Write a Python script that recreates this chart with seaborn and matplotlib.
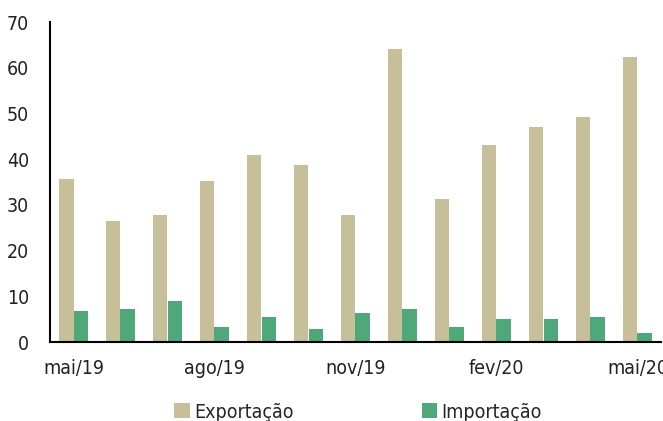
import matplotlib
matplotlib.use("Agg")
import matplotlib.pyplot as plt
import seaborn as sns
import pandas as pd
from matplotlib.patches import Patch
from matplotlib import font_manager as fm

meses = ["mai/19", "jun/19", "jul/19", "ago/19", "set/19", "out/19", "nov/19",
         "dez/19", "jan/20", "fev/20", "mar/20", "abr/20", "mai/20"]
exportacao = [35.6, 26.5, 27.8, 35.2, 40.9, 38.7, 27.8, 64.1, 31.3, 43.1, 47.1, 49.2, 62.4]
importacao = [6.7, 7.2, 8.9, 3.2, 5.4, 2.8, 6.3, 7.2, 3.2, 5.0, 5.0, 5.4, 1.9]
series = ["Exportação", "Importação"]
cores = ["#C7BF99", "#4FA87A"]
yticks = [0, 10, 20, 30, 40, 50, 60, 70]

df = pd.DataFrame({
    "mes": meses * 2,
    "valor": exportacao + importacao,
    "serie": [series[0]] * len(meses) + [series[1]] * len(meses),
})

sns.set_style("white")
plt.rcParams["font.family"] = ["DejaVu Sans"]
plt.rcParams["font.stretch"] = "condensed"

fig = plt.figure(figsize=(6.63, 4.21), dpi=100)
ax = fig.add_axes([50 / 663, 1 - 342 / 421, 611 / 663, (342 - 22.3) / 421])

sns.barplot(data=df, x="mes", y="valor", hue="serie", order=meses,
            hue_order=series, palette=cores, width=0.6, ax=ax,
            edgecolor="none", linewidth=0, legend=False, saturation=1)

fp = fm.FontProperties(family="DejaVu Sans", stretch="condensed", size=14)

ax.set_ylim(0, 70)
ax.set_xlim(-0.5, len(meses) - 0.5)
ax.set_yticks(yticks)
ax.set_yticklabels([str(v) for v in yticks], fontproperties=fp, color="#222222")
lbl_pos = [0, 3, 6, 9, 12]
ax.set_xticks(lbl_pos)
ax.set_xticklabels([meses[i] for i in lbl_pos], fontproperties=fp, color="#222222")
ax.set_xticks([-0.5, 2.5, 5.5, 8.5, 11.5], minor=True)
ax.tick_params(axis="x", which="major", length=0, pad=12)
ax.tick_params(axis="x", which="minor", length=6, width=1.5, color="black", direction="out")
ax.tick_params(axis="y", which="major", length=5, width=1.5, color="black", direction="out", pad=10)
ax.set_xlabel("")
ax.set_ylabel("")
for s in ["top", "right"]:
    ax.spines[s].set_visible(False)
for s in ["left", "bottom"]:
    ax.spines[s].set_color("black")
    ax.spines[s].set_linewidth(1.5)

handles = [Patch(facecolor=c, edgecolor="none") for c in cores]
fig.legend(handles, series, loc="center", bbox_to_anchor=(358 / 663, 1 - 412 / 421),
           ncol=2, frameon=False, prop=fp, handlelength=0.8, handleheight=0.8,
           handletextpad=0.2, columnspacing=6.6)

fig.savefig("out.png", dpi=100)
